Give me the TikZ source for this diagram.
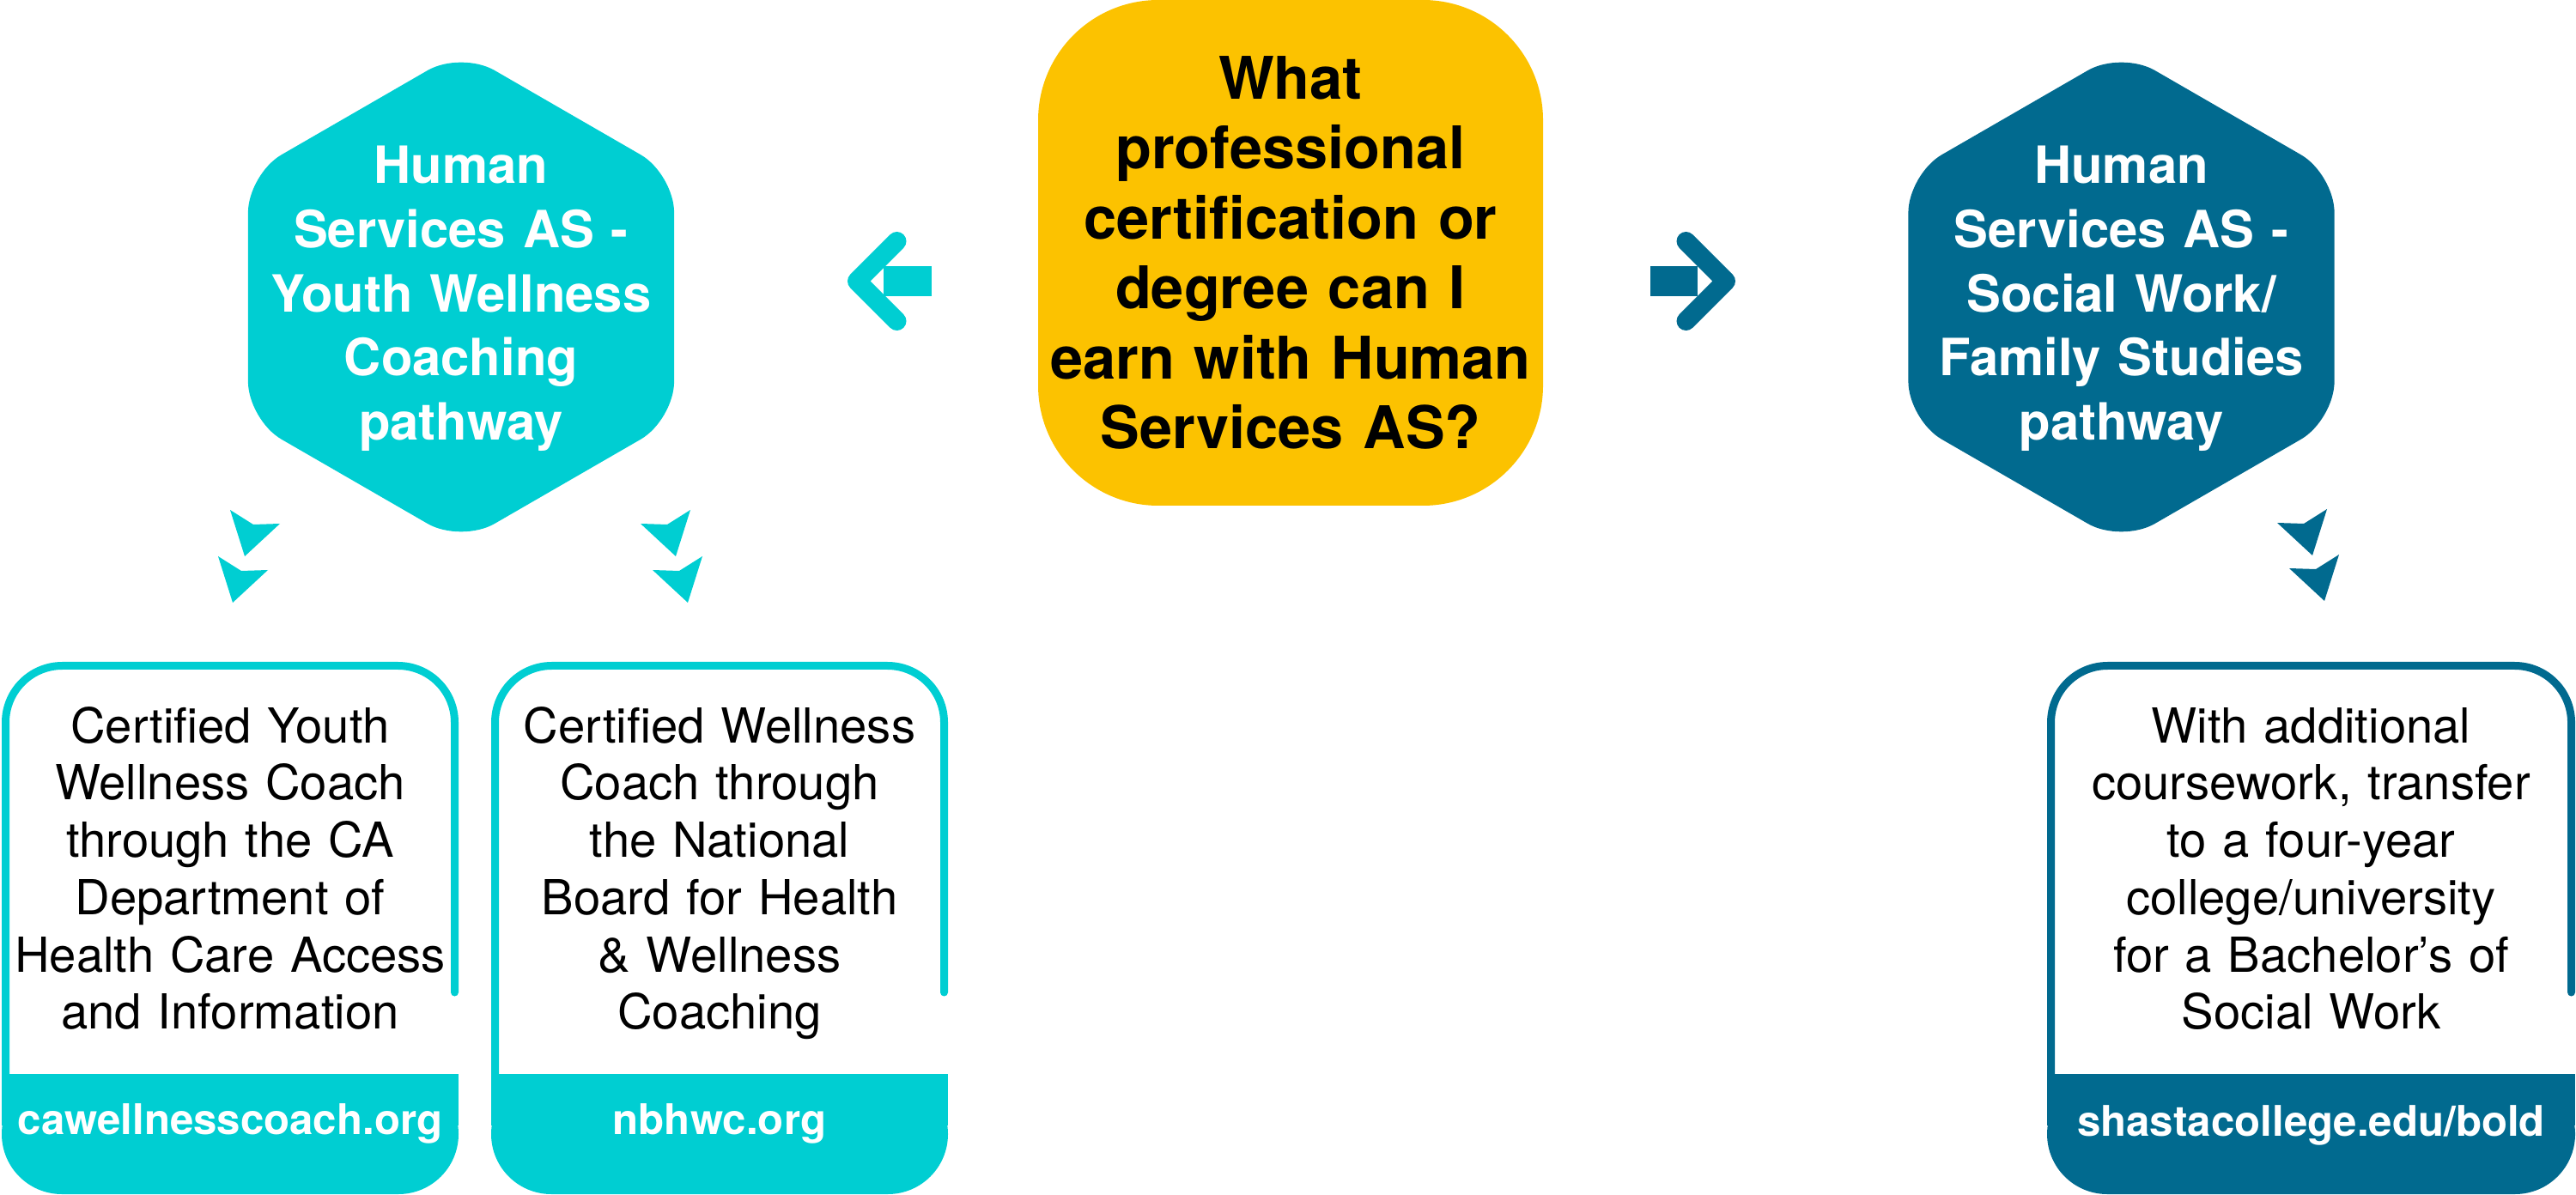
\documentclass[tikz,border=0pt]{standalone}
\usepackage{fontspec}
\setmainfont{TeX Gyre Heros}
\usetikzlibrary{shapes.geometric}
\definecolor{wellcyan}{HTML}{00CED2}
\definecolor{socteal}{HTML}{016A8F}
\definecolor{askgold}{HTML}{FCC200}
\tikzset{
  hexa/.style={regular polygon, regular polygon sides=6, shape border rotate=30,
    minimum size=5.73cm, inner sep=0pt, outer sep=0pt, rounded corners=0.45cm, fill=#1},
  hextext/.style={text=white, font=\bfseries\fontsize{17}{21.2}\selectfont,
    align=center, text width=5cm, anchor=base, inner sep=0pt},
  askbox/.style={rectangle, rounded corners=1.4cm, fill=askgold, minimum width=5.88cm,
    minimum height=5.89cm, text width=5.7cm, align=center, inner sep=0pt,
    font=\bfseries\fontsize{19.5}{23.2}\selectfont},
  certtext/.style={font=\fontsize{16}{19}\selectfont, align=center, text width=5.6cm,
    anchor=base, inner sep=0pt},
  urltext/.style={text=white, font=\bfseries\fontsize{14}{17}\selectfont,
    anchor=base, inner sep=0pt},
  certframe/.style={draw=#1, line width=0.09cm, line cap=round, rounded corners=0.66cm},
  shaft/.style={line width=0.35cm},
  barb/.style={line width=0.22cm, line cap=round, line join=round},
  chev/.pic={\fill[#1] (0,0) -- (-0.41,0.38) -- (-0.10,0.37) -- (0.17,0.54) -- cycle;}
}
\begin{document}
\begin{tikzpicture}
    \useasboundingbox (0,0) rectangle (30,13.91);

    % question and the two pathways
    \node[askbox] (ask) at (15.03,10.965) {What\\ professional\\ certification or\\ degree can I\\ earn with Human\\ Services AS?};
    \node[hexa=wellcyan] (ywhex) at (5.37,10.45) {};
    \node[hextext] (yw) at (5.37,11.77) {Human\\ Services AS -\\ Youth Wellness\\ Coaching\\ pathway};
    \node[hexa=socteal] (swhex) at (24.705,10.45) {};
    \node[hextext] (sw) at (24.705,11.77) {Human\\ Services AS -\\ Social Work/\\ Family Studies\\ pathway};

    \coordinate (lshaft) at (10.85,10.635);
    \coordinate (ltip) at (9.98,10.635);
    \coordinate (rshaft) at (19.22,10.635);
    \coordinate (rtip) at (20.10,10.635);
    \draw[shaft, wellcyan] (lshaft) -- ++(-0.56,0);
    \draw[barb, wellcyan] ([shift={(0.465,0.465)}]ltip) -- (ltip) -- ([shift={(0.465,-0.465)}]ltip);
    \draw[shaft, socteal] (rshaft) -- ++(0.55,0);
    \draw[barb, socteal] ([shift={(-0.465,0.465)}]rtip) -- (rtip) -- ([shift={(-0.465,-0.465)}]rtip);

    \foreach \x/\y in {2.85/7.43, 2.71/6.89}
        \pic at (\x,\y) {chev={wellcyan, xscale=-1}};
    \foreach \x/\y in {7.87/7.43, 8.01/6.89}
        \pic at (\x,\y) {chev=wellcyan};
    \foreach \x/\y in {26.93/7.44, 27.07/6.91}
        \pic at (\x,\y) {chev=socteal};

    % certificate boxes
    \foreach \l/\r/\c in {0.065/5.295/wellcyan, 5.765/10.995/wellcyan, 23.885/29.945/socteal} {
        \draw[certframe=\c] (\r,2.35) -- (\r,6.155) -- (\l,6.155) -- (\l,1.3);
        \fill[\c, rounded corners=0.7cm] (\l-0.045,0) rectangle (\r+0.045,1.40);
        \fill[\c] (\l-0.045,0.8) rectangle (\r+0.045,1.40);
    }

    \node[certtext] (cyw) at (2.68,5.26) {Certified Youth\\ Wellness Coach\\ through the CA\\ Department of\\ Health Care Access\\ and Information};
    \node[certtext] (cwc) at (8.38,5.26) {Certified Wellness\\ Coach through\\ the National\\ Board for Health\\ \& Wellness\\ Coaching};
    \node[certtext] (bsw) at (26.915,5.26) {With additional\\ coursework, transfer\\ to a four-year\\ college/university\\ for a Bachelor’s of\\ Social Work};

    \node[urltext] (cywurl) at (2.68,0.70) {cawellnesscoach.org};
    \node[urltext] (cwcurl) at (8.38,0.70) {nbhwc.org};
    \node[urltext] (bswurl) at (26.915,0.68) {shastacollege.edu/bold};
\end{tikzpicture}
\end{document}
